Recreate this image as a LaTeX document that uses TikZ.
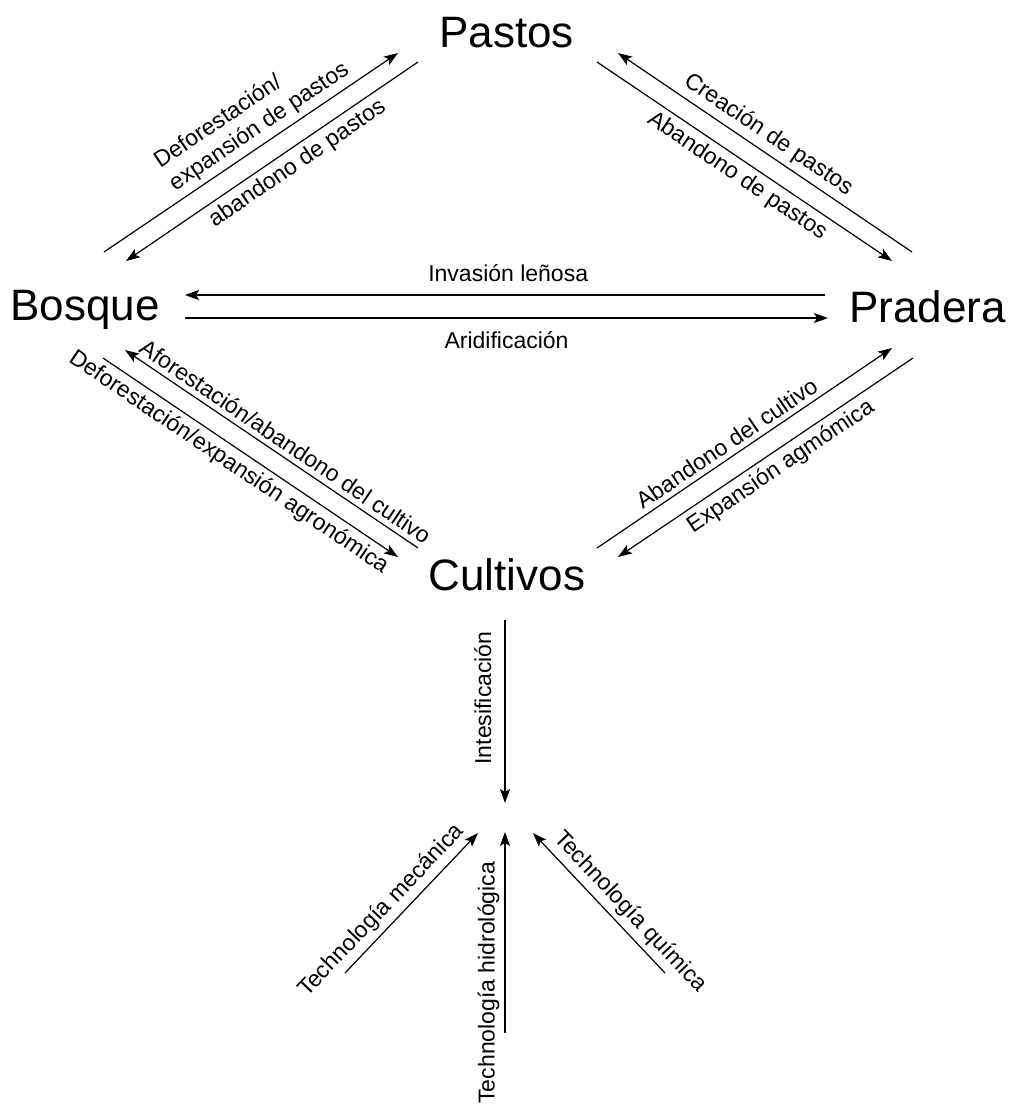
\documentclass[tikz,border=0pt]{standalone}
\usepackage{fontspec}
\setmainfont{Liberation Sans}
\usetikzlibrary{arrows.meta}
\begin{document}
\begin{tikzpicture}[x = 0.5pt, y = -0.5pt,
	big/.style = {font = \fontsize{22}{26}\selectfont, inner sep = 0pt, anchor = base},
	lbl/.style = {font = \fontsize{11.5}{13.5}\selectfont, inner sep = 2.5pt},
	lblfar/.style = {lbl, inner sep = 6.5pt},
	arr/.style = {-{Stealth[length = 7pt, width = 5pt, inset = 1.5pt]}, line width = 0.6pt}]
	\useasboundingbox (0,0) rectangle (1012,1110);
	% usos del suelo
	\node [big] (pastos) at (506.5,47) {Pastos};
	\node [big] (bosque) at (85,320) {Bosque};
	\node [big] (pradera) at (927.5,322) {Pradera};
	\node [big] (cultivos) at (507,590) {Cultivos};
	\coordinate (hub) at (505,818);
	\coordinate (mec) at (345,973);
	\coordinate (hid) at (505,1033);
	\coordinate (qui) at (665,973);
	% bosque - pastos
	\draw [arr] ([shift = {(19,-68)}]bosque.base) -- ([shift = {(-108.5,6)}]pastos.base)
		node [lbl, sloped, pos = 0.56, above, align = left] {Deforestación/\\expansión de pastos};
	\draw [arr] ([shift = {(-88.5,15)}]pastos.base) -- ([shift = {(41,-59)}]bosque.base)
		node [lbl, sloped, pos = 0.444, below] {abandono de pastos};
	% pradera - pastos
	\draw [arr] ([shift = {(-15.5,-70)}]pradera.base) -- ([shift = {(111.5,6)}]pastos.base)
		node [lbl, sloped, pos = 0.52, above] {Creación de pastos};
	\draw [arr] ([shift = {(90.5,15)}]pastos.base) -- ([shift = {(-35.5,-61)}]pradera.base)
		node [lbl, sloped, pos = 0.506, below] {Abandono de pastos};
	% bosque - pradera
	\draw [arr] ([shift = {(-102.5,-27)}]pradera.base) -- ([shift = {(100,-25)}]bosque.base)
		node [lblfar, pos = 0.495, above] {Invasión leñosa};
	\draw [arr] ([shift = {(100,-2)}]bosque.base) -- ([shift = {(-99.5,-4)}]pradera.base)
		node [lblfar, pos = 0.5, below] {Aridificación};
	% cultivos - bosque
	\draw [arr] ([shift = {(-89,-42)}]cultivos.base) -- ([shift = {(40,30)}]bosque.base)
		node [lbl, sloped, pos = 0.479, above] {Aforestación/abandono del cultivo};
	\draw [arr] ([shift = {(18,38)}]bosque.base) -- ([shift = {(-109,-33)}]cultivos.base)
		node [lbl, sloped, pos = 0.457, below] {Deforestación/expansión agronómica};
	% cultivos - pradera
	\draw [arr] ([shift = {(90,-42)}]cultivos.base) -- ([shift = {(-35.5,26)}]pradera.base)
		node [lbl, sloped, pos = 0.466, above] {Abandono del cultivo};
	\draw [arr] ([shift = {(-14.5,36)}]pradera.base) -- ([shift = {(111,-33)}]cultivos.base)
		node [lbl, sloped, pos = 0.479, below] {Expansión agmómica};
	% intensificación
	\draw [arr] ([shift = {(-2,30)}]cultivos.base) -- ([shift = {(0,-15)}]hub)
		node [lblfar, pos = 0.426, rotate = 90, anchor = south] {Intesificación};
	\draw [arr] (mec) -- ([shift = {(-27,15)}]hub)
		node [lbl, sloped, pos = 0.365, above] {Technología mecánica};
	\draw [arr] (hid) -- ([shift = {(0,14)}]hub)
		node [lbl, pos = 0.25, rotate = 90, anchor = south] {Technología hidrológica};
	\draw [arr] (qui) -- ([shift = {(28,15)}]hub)
		node [lbl, sloped, pos = 0.356, above] {Technología química};
\end{tikzpicture}
\end{document}
